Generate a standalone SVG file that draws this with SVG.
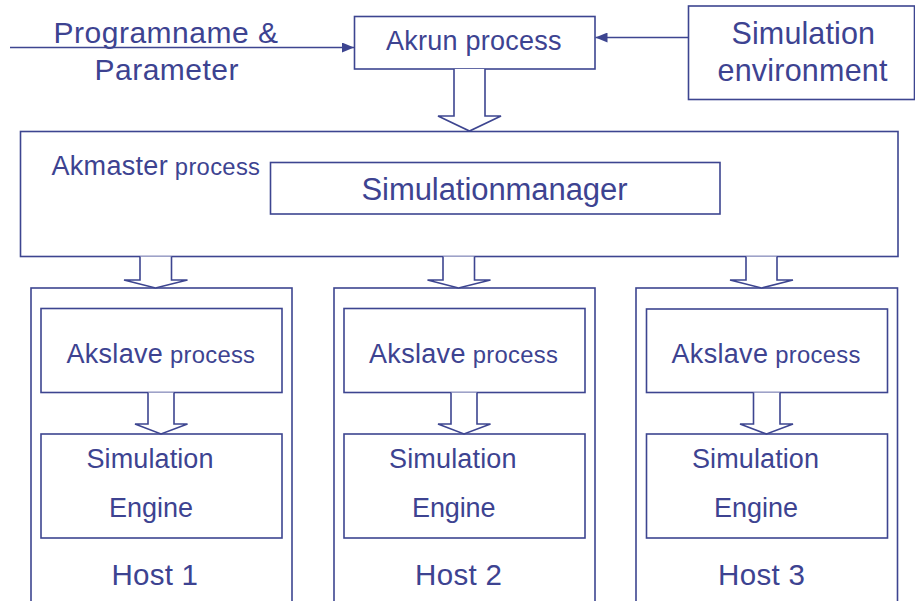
<svg xmlns="http://www.w3.org/2000/svg" width="915" height="601" viewBox="0 0 915 601">
<defs>
<style>
.box{fill:#fff;stroke:#3d4590;stroke-width:1.6}
.ln{fill:none;stroke:#3d4590;stroke-width:1.6}
.big{fill:#fff;stroke:#3d4590;stroke-width:1.6;stroke-linejoin:miter}
text{font-family:"Liberation Sans",Arial,sans-serif;fill:#3d4391}
.t27{font-size:27px}
.t24{font-size:23.8px}
.host{font-size:29.5px}
</style>
<marker id="ah" viewBox="0 0 12 10" refX="12" refY="5" markerWidth="12" markerHeight="10" markerUnits="userSpaceOnUse" orient="auto">
<path d="M0,0 L12,5 L0,10 Z" fill="#3d4590"/>
</marker>
</defs>
<rect width="915" height="601" fill="#fff"/>

<g id="akrun">
<rect class="box" x="354.5" y="16.5" width="240.5" height="52.5"/>
<text class="t27" x="386" y="50" textLength="175.5" lengthAdjust="spacing">Akrun process</text>
</g>

<g id="simenv">
<rect class="box" x="688.5" y="6" width="226" height="93.5"/>
<text x="731.5" y="43.5" style="font-size:30.5px" textLength="143.5" lengthAdjust="spacing">Simulation</text>
<text x="717.5" y="80.5" style="font-size:30.5px" textLength="170" lengthAdjust="spacing">environment</text>
</g>

<g id="input-label">
<text x="53.5" y="43" style="font-size:30px" textLength="224.5" lengthAdjust="spacing">Programname &amp;</text>
<text x="94.5" y="80" style="font-size:30px" textLength="144" lengthAdjust="spacing">Parameter</text>
</g>

<g id="akmaster">
<rect class="box" x="20.5" y="131.5" width="877.5" height="125"/>
<text x="51.5" y="175" textLength="208.5" lengthAdjust="spacing"><tspan class="t27">Akmaster</tspan><tspan class="t24"> process</tspan></text>
</g>

<g id="simmanager">
<rect class="box" x="270.5" y="162.5" width="449.5" height="51.5"/>
<text x="361.5" y="200" style="font-size:31px" textLength="266" lengthAdjust="spacing">Simulationmanager</text>
</g>

<g id="host1">
<rect class="box" x="31" y="288" width="261" height="320"/>
<text class="host" x="111.5" y="585" textLength="86.5" lengthAdjust="spacing">Host 1</text>
</g>
<g id="akslave1">
<rect class="box" x="41" y="308.5" width="241" height="84"/>
<text x="66.5" y="363" textLength="188.5" lengthAdjust="spacing"><tspan class="t27">Akslave</tspan><tspan class="t24"> process</tspan></text>
</g>
<g id="engine1">
<rect class="box" x="41" y="434" width="241" height="104"/>
<text class="t27" x="86.5" y="467.5" textLength="127" lengthAdjust="spacing">Simulation</text>
<text class="t27" x="109" y="517" textLength="84" lengthAdjust="spacing">Engine</text>
</g>

<g id="host2">
<rect class="box" x="334" y="288" width="261" height="320"/>
<text class="host" x="415" y="585" textLength="87" lengthAdjust="spacing">Host 2</text>
</g>
<g id="akslave2">
<rect class="box" x="344" y="308.5" width="241" height="84"/>
<text x="369" y="363" textLength="189" lengthAdjust="spacing"><tspan class="t27">Akslave</tspan><tspan class="t24"> process</tspan></text>
</g>
<g id="engine2">
<rect class="box" x="344" y="434" width="241" height="104"/>
<text class="t27" x="389" y="467.5" textLength="127.5" lengthAdjust="spacing">Simulation</text>
<text class="t27" x="412" y="517" textLength="83.5" lengthAdjust="spacing">Engine</text>
</g>

<g id="host3">
<rect class="box" x="636" y="288" width="261.5" height="320"/>
<text class="host" x="718" y="584.5" textLength="87" lengthAdjust="spacing">Host 3</text>
</g>
<g id="akslave3">
<rect class="box" x="646.5" y="309" width="241" height="83.5"/>
<text x="671.5" y="363" textLength="189" lengthAdjust="spacing"><tspan class="t27">Akslave</tspan><tspan class="t24"> process</tspan></text>
</g>
<g id="engine3">
<rect class="box" x="646.5" y="434" width="241" height="104"/>
<text class="t27" x="692" y="467.5" textLength="127" lengthAdjust="spacing">Simulation</text>
<text class="t27" x="714" y="517" textLength="84" lengthAdjust="spacing">Engine</text>
</g>

<g id="connectors">
<line class="ln" x1="10" y1="47.5" x2="354" y2="47.5" marker-end="url(#ah)"/>
<line class="ln" x1="688" y1="37.5" x2="595.5" y2="37.5" marker-end="url(#ah)"/>
<path class="big" d="M454,69 L454,116 L438,116 L469.5,131 L501,116 L485,116 L485,69"/>
<path class="big" d="M140,256.5 L140,280 L124,280 L155.5,288 L187.5,280 L171.5,280 L171.5,256.5"/>
<path class="big" d="M443,256.5 L443,280 L427.5,280 L458.5,288 L490.5,280 L474.5,280 L474.5,256.5"/>
<path class="big" d="M746,256.5 L746,280 L730,280 L761.5,288 L793,280 L777,280 L777,256.5"/>
<path class="big" d="M148,392.5 L148,424 L135,424 L161,434 L187.5,424 L174,424 L174,392.5"/>
<path class="big" d="M451,392.5 L451,424 L438,424 L464,434 L490.5,424 L477,424 L477,392.5"/>
<path class="big" d="M753.5,392.5 L753.5,424 L740,424 L766.5,434 L793,424 L780,424 L780,392.5"/>
</g>
</svg>
